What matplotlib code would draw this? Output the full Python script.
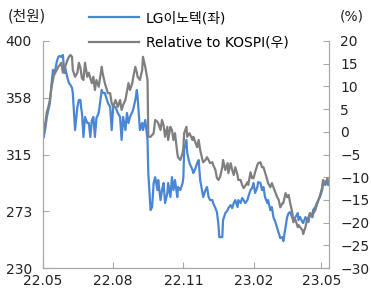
import pandas as pd
import matplotlib
matplotlib.use('Agg')
import matplotlib.pyplot as plt
from matplotlib.lines import Line2D

plt.rcParams['font.family'] = ['DejaVu Sans', 'Noto Sans CJK KR']

# data
dates = [
    '2022-05-02', '2022-05-04', '2022-05-06', '2022-05-08', '2022-05-10', '2022-05-12', '2022-05-14', '2022-05-15',
    '2022-05-17', '2022-05-19', '2022-05-21', '2022-05-23', '2022-05-25', '2022-05-27', '2022-05-29', '2022-05-30',
    '2022-06-02', '2022-06-04', '2022-06-06', '2022-06-08', '2022-06-09', '2022-06-12', '2022-06-15', '2022-06-17',
    '2022-06-19', '2022-06-20', '2022-06-21', '2022-06-23', '2022-06-25', '2022-06-28', '2022-06-30', '2022-07-02',
    '2022-07-04', '2022-07-06', '2022-07-08', '2022-07-10', '2022-07-13', '2022-07-17', '2022-07-18', '2022-07-21',
    '2022-07-25', '2022-07-28', '2022-07-30', '2022-08-01', '2022-08-04', '2022-08-07', '2022-08-10', '2022-08-12',
    '2022-08-14', '2022-08-17', '2022-08-19', '2022-08-21', '2022-08-23', '2022-08-26', '2022-08-27', '2022-08-30',
    '2022-09-01', '2022-09-02', '2022-09-05', '2022-09-08', '2022-09-09', '2022-09-12', '2022-09-15', '2022-09-16',
    '2022-09-19', '2022-09-21', '2022-09-23', '2022-09-25', '2022-09-28', '2022-09-29', '2022-10-02', '2022-10-04',
    '2022-10-06', '2022-10-08', '2022-10-11', '2022-10-12', '2022-10-15', '2022-10-17', '2022-10-19', '2022-10-21',
    '2022-10-24', '2022-10-25', '2022-10-28', '2022-10-31', '2022-11-01', '2022-11-02', '2022-11-05', '2022-11-06',
    '2022-11-09', '2022-11-13', '2022-11-14', '2022-11-17', '2022-11-19', '2022-11-21', '2022-11-23', '2022-11-26',
    '2022-11-27', '2022-11-30', '2022-12-02', '2022-12-04', '2022-12-06', '2022-12-09', '2022-12-10', '2022-12-13',
    '2022-12-15', '2022-12-17', '2022-12-18', '2022-12-19', '2022-12-22', '2022-12-23', '2022-12-26', '2022-12-29',
    '2022-12-30', '2023-01-02', '2023-01-04', '2023-01-06', '2023-01-08', '2023-01-11', '2023-01-12', '2023-01-15',
    '2023-01-17', '2023-01-19', '2023-01-21', '2023-01-24', '2023-01-25', '2023-01-28', '2023-01-30', '2023-02-01',
    '2023-02-03', '2023-02-06', '2023-02-07', '2023-02-10', '2023-02-12', '2023-02-14', '2023-02-16', '2023-02-19',
    '2023-02-20', '2023-02-23', '2023-02-25', '2023-02-27', '2023-03-02', '2023-03-04', '2023-03-06', '2023-03-08',
    '2023-03-11', '2023-03-12', '2023-03-15', '2023-03-17', '2023-03-19', '2023-03-21', '2023-03-24', '2023-03-25',
    '2023-03-28', '2023-03-31', '2023-04-01', '2023-04-03', '2023-04-06', '2023-04-07', '2023-04-10', '2023-04-12',
    '2023-04-14', '2023-04-16', '2023-04-19', '2023-04-20', '2023-04-23', '2023-04-25', '2023-04-27', '2023-04-29',
    '2023-05-02', '2023-05-03', '2023-05-06', '2023-05-09', '2023-05-10',
]

lg_price = [
    328.1, 334.8, 343.1, 348.3, 353.6, 367.0, 378.3, 376.0,
    378.3, 384.3, 388.0, 388.8, 388.0, 389.5, 376.0, 379.8,
    372.3, 368.5, 367.0, 364.8, 361.1, 333.3, 350.6, 355.8,
    355.8, 349.8, 346.1, 328.1, 343.1, 338.6, 338.6, 328.1,
    340.8, 343.1, 328.1, 342.3, 346.1, 363.3, 361.1, 361.1,
    353.6, 350.6, 333.3, 350.6, 350.6, 346.1, 343.1, 325.9,
    343.1, 333.3, 346.1, 338.6, 343.1, 346.8, 348.3, 355.8,
    363.3, 358.1, 333.3, 338.6, 333.3, 340.8, 325.9, 301.1,
    273.4, 275.7, 293.7, 298.1, 288.4, 295.9, 280.9, 288.4,
    293.7, 278.7, 286.2, 293.7, 283.2, 298.1, 288.4, 295.9,
    283.2, 290.7, 288.4, 293.7, 298.1, 318.4, 325.9, 316.1,
    308.6, 303.4, 301.1, 304.9, 308.6, 310.9, 295.9, 286.2,
    283.2, 288.4, 290.7, 283.2, 280.9, 280.9, 278.7, 274.9,
    271.9, 262.2, 253.2, 253.2, 253.2, 265.9, 271.2, 273.4,
    274.9, 277.2, 274.9, 278.7, 280.9, 275.7, 280.9, 278.7,
    282.4, 280.9, 278.7, 280.9, 283.2, 288.4, 289.9, 293.7,
    286.2, 290.7, 294.4, 293.7, 288.4, 290.7, 283.2, 278.7,
    280.9, 273.4, 275.7, 268.2, 263.7, 260.0, 256.2, 252.5,
    253.2, 250.2, 260.7, 268.2, 271.2, 271.9, 267.4, 265.9,
    268.2, 271.2, 265.9, 268.2, 264.4, 263.7, 268.2, 265.9,
    264.4, 271.2, 268.2, 273.4, 275.7, 278.7, 280.9, 283.2,
    288.4, 293.7, 292.2, 294.4, 292.2,
]

rel_kospi = [
    0.4, 1.9, 4.4, 5.5, 7.0, 9.6, 11.4, 12.3,
    13.0, 13.6, 14.3, 14.7, 15.2, 13.0, 13.6, 14.3,
    15.8, 16.5, 16.9, 16.5, 13.6, 12.1, 13.0, 15.2,
    14.1, 13.0, 11.8, 11.4, 15.2, 12.1, 13.0, 11.8,
    10.7, 12.1, 9.2, 11.4, 9.9, 14.3, 13.0, 10.7,
    8.5, 8.5, 6.3, 5.5, 7.0, 5.5, 7.0, 4.8,
    5.9, 7.0, 8.8, 10.7, 9.2, 10.7, 11.8, 14.3,
    13.0, 12.1, 11.4, 13.6, 16.5, 14.3, 11.4, -1.1,
    -1.1, -0.7, -0.3, 2.6, 2.2, 1.9, 0.4, 2.6,
    1.5, -1.1, 1.1, -1.8, 1.1, 0.4, -1.8, -0.3,
    -4.7, -5.6, -6.2, -4.7, -3.4, -0.3, 1.1, -1.1,
    -0.3, -1.8, -1.1, -2.5, -3.4, -1.8, -4.0, -6.2,
    -6.7, -6.2, -5.6, -6.2, -6.9, -6.7, -7.3, -8.4,
    -10.2, -10.6, -10.2, -10.0, -7.8, -6.2, -8.4, -6.9,
    -9.1, -6.9, -8.4, -9.5, -7.8, -9.5, -10.6, -10.6,
    -11.7, -12.4, -11.9, -11.1, -11.7, -8.9, -10.2, -10.2,
    -8.9, -7.3, -6.9, -6.7, -7.8, -7.8, -8.9, -10.6,
    -11.3, -12.2, -11.3, -12.2, -13.5, -14.4, -15.0, -16.6,
    -15.7, -15.7, -13.5, -14.4, -13.9, -15.7, -17.9, -19.9,
    -19.4, -21.0, -20.5, -21.0, -21.6, -22.5, -21.0, -19.4,
    -18.8, -17.9, -18.8, -18.1, -17.2, -16.1, -15.0, -14.1,
    -12.2, -10.6, -11.3, -10.2, -11.3,
]

tick_dates = ['2022-05-01', '2022-08-01', '2022-11-01', '2023-02-01', '2023-05-01']
tick_labels = ['22.05', '22.08', '22.11', '23.02', '23.05']
left_ticks = [230, 272.5, 315, 357.5, 400]
left_labels = ['230', '273', '315', '358', '400']
right_ticks = [-30, -25, -20, -15, -10, -5, 0, 5, 10, 15, 20]

x = pd.to_datetime(dates)
blue = '#4a86d6'
grey = '#7f7f7f'
spine_c = '#a6a6a6'

fig = plt.figure(figsize=(3.71, 2.88), dpi=100)
ax = fig.add_axes([0.116, 0.069, 0.771, 0.789])
ax2 = ax.twinx()

ax.plot(x, lg_price, color=blue, lw=1.6)
ax2.plot(x, rel_kospi, color=grey, lw=1.6)

ax.set_xlim(pd.Timestamp('2022-05-01'), pd.Timestamp('2023-05-11'))
ax.set_ylim(230, 400)
ax2.set_ylim(-30, 20)
ax.set_xticks(pd.to_datetime(tick_dates))
ax.set_xticklabels(tick_labels)
ax.set_yticks(left_ticks)
ax.set_yticklabels(left_labels)
ax2.set_yticks(right_ticks)

for a in (ax, ax2):
    a.spines['top'].set_visible(False)
    for s in ('left', 'right', 'bottom'):
        a.spines[s].set_color(spine_c)
    a.tick_params(direction='in', length=4, color=spine_c, labelsize=10, labelcolor='#222222')
ax.tick_params(axis='y', pad=8)
ax.tick_params(axis='x', pad=4)
ax2.tick_params(axis='y', pad=8)

handles = [Line2D([], [], color=blue, lw=1.6), Line2D([], [], color=grey, lw=1.6)]
fig.legend(handles, ['LG이노텍(좌)', 'Relative to KOSPI(우)'], loc='upper left',
           bbox_to_anchor=(0.206, 1.005), frameon=False, fontsize=10,
           handlelength=3.6, handletextpad=0.5, labelspacing=0.75)

fig.text(0.02, 0.944, '(천원)', fontsize=10.5, va='center', color='#222222')
fig.text(0.917, 0.944, '(%)', fontsize=10, va='center', color='#222222')

fig.savefig('out.png', dpi=100)
